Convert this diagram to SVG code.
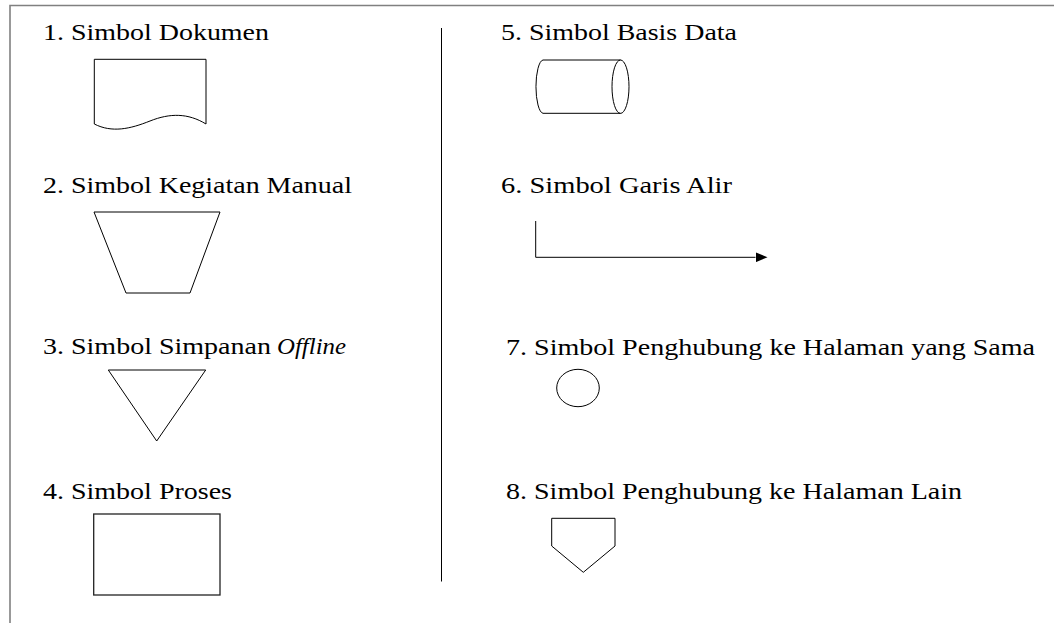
<svg xmlns="http://www.w3.org/2000/svg" width="1054" height="623" viewBox="0 0 1054 623">
<style>
  .lbl { font-family: "Liberation Serif", "Noto Serif", "DejaVu Serif", FreeSerif, "Nimbus Roman", "Times New Roman", serif; font-size: 23px; fill: #000; }
  .it { font-style: italic; }
  .sh { fill: none; stroke: #000; stroke-width: 1; }
  .frame { fill: none; stroke: #808080; stroke-width: 1.6; }
</style>
<defs>
  <marker id="arrow" viewBox="0 0 12 10" refX="0" refY="5" markerWidth="12" markerHeight="10" markerUnits="userSpaceOnUse" orient="auto">
    <path d="M0,0 L12,5 L0,10 Z" fill="#000"/>
  </marker>
</defs>
<rect width="1054" height="623" fill="#fff"/>
<g id="frame">
  <path class="frame" d="M10,623 L10,5.5 L1054,5.5"/>
  <line class="sh" x1="441.5" y1="28" x2="441.5" y2="581.5"/>
</g>
<g id="sym1">
  <text class="lbl" x="43" y="40" textLength="226" lengthAdjust="spacingAndGlyphs">1. Simbol Dokumen</text>
  <path class="sh" d="M94.3,59.3 L206,59.3 L206,124 C188,113 170,113 150,121 C130,129 112,133 94.3,124 Z"/>
</g>
<g id="sym2">
  <text class="lbl" x="43" y="193" textLength="309" lengthAdjust="spacingAndGlyphs">2. Simbol Kegiatan Manual</text>
  <polygon class="sh" points="94,212 220,212 190,293 126,293"/>
</g>
<g id="sym3">
  <text class="lbl" x="43" y="354" textLength="228" lengthAdjust="spacingAndGlyphs">3. Simbol Simpanan</text>
  <text class="lbl it" x="277" y="354" textLength="69" lengthAdjust="spacingAndGlyphs">Offline</text>
  <polygon class="sh" points="108.3,370 205.7,370 156.7,441"/>
</g>
<g id="sym4">
  <text class="lbl" x="43" y="499" textLength="189" lengthAdjust="spacingAndGlyphs">4. Simbol Proses</text>
  <rect x="93.7" y="514" width="126.3" height="81" fill="none" stroke="#222" stroke-width="1.3"/>
</g>
<g id="sym5">
  <text class="lbl" x="501" y="39.5" textLength="236" lengthAdjust="spacingAndGlyphs">5. Simbol Basis Data</text>
  <path class="sh" d="M620.5,60 L543,60 A7.5,26.7 0 0 0 543,113.3 L620.5,113.3"/>
  <ellipse class="sh" cx="620.5" cy="86.7" rx="8.5" ry="26.7"/>
</g>
<g id="sym6">
  <text class="lbl" x="501" y="193" textLength="231" lengthAdjust="spacingAndGlyphs">6. Simbol Garis Alir</text>
</g>
<g id="connectors">
  <path class="sh" d="M535.7,221 L535.7,257.3 L755.5,257.3" marker-end="url(#arrow)"/>
</g>
<g id="sym7">
  <text class="lbl" x="506" y="355" textLength="529" lengthAdjust="spacingAndGlyphs">7. Simbol Penghubung ke Halaman yang Sama</text>
  <ellipse class="sh" cx="578" cy="388" rx="21.3" ry="18.7"/>
</g>
<g id="sym8">
  <text class="lbl" x="506" y="499" textLength="456" lengthAdjust="spacingAndGlyphs">8. Simbol Penghubung ke Halaman Lain</text>
  <polygon class="sh" points="551.7,518.3 615,518.3 615,546 583.3,572.3 551.7,546"/>
</g>
</svg>
